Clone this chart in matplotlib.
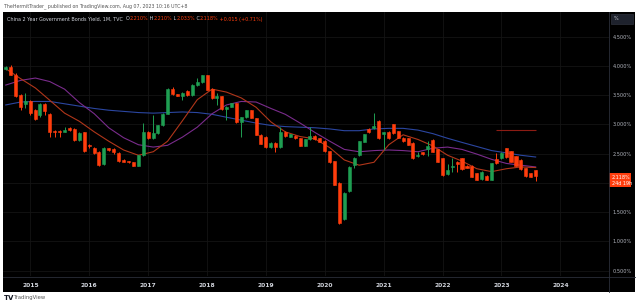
import numpy as np
import pandas as pd
import matplotlib
matplotlib.use("Agg")
import matplotlib.pyplot as plt
import matplotlib.dates as mdates
import matplotlib.transforms as mtransforms
from matplotlib.patches import Rectangle
from matplotlib.lines import Line2D

# --- monthly candles, China 2Y yield (Aug 2014 .. Aug 2023) ---
first_month = "2014-08-01"
opens = [3.94, 3.98, 3.85, 3.50, 3.35, 3.39, 3.24, 3.15, 3.35, 3.18,
         2.89, 2.89, 2.87, 2.94, 2.92, 2.73, 2.86, 2.65, 2.60, 2.53,
         2.32, 2.59, 2.57, 2.51, 2.39, 2.37, 2.35, 2.29, 2.47, 2.86,
         2.76, 2.85, 2.98, 3.18, 3.61, 3.51, 3.49, 3.57, 3.50, 3.67,
         3.72, 3.84, 3.60, 3.45, 3.48, 3.26, 3.30, 3.36, 3.04, 3.12,
         3.24, 3.10, 2.82, 2.79, 2.61, 2.68, 2.61, 2.87, 2.79, 2.80,
         2.76, 2.63, 2.74, 2.80, 2.76, 2.72, 2.54, 2.37, 2.00, 1.38,
         1.86, 2.30, 2.47, 2.70, 2.92, 2.93, 3.06, 2.83, 2.87, 3.00,
         2.88, 2.77, 2.76, 2.68, 2.45, 2.52, 2.57, 2.73, 2.57, 2.42,
         2.15, 2.27, 2.35, 2.42, 2.29, 2.29, 2.16, 2.06, 2.12, 2.05,
         2.40, 2.42, 2.59, 2.54, 2.45, 2.39, 2.25, 2.16, 2.21]
highs = [4.00, 4.01, 3.87, 3.52, 3.53, 3.41, 3.26, 3.37, 3.36, 3.19,
         2.90, 2.90, 2.96, 2.95, 2.93, 2.86, 2.87, 2.66, 2.61, 2.54,
         2.61, 2.60, 2.59, 2.52, 2.40, 2.38, 2.36, 2.48, 3.02, 2.88,
         3.16, 2.99, 3.19, 3.62, 3.63, 3.52, 3.55, 3.58, 3.68, 3.79,
         3.85, 3.85, 3.62, 3.53, 3.49, 3.31, 3.37, 3.37, 3.13, 3.25,
         3.25, 3.11, 2.83, 2.80, 2.69, 2.69, 2.96, 2.88, 2.84, 2.81,
         2.77, 2.75, 2.96, 2.81, 2.77, 2.73, 2.55, 2.38, 2.01, 1.84,
         2.28, 2.44, 2.72, 2.84, 2.93, 3.20, 3.07, 2.87, 2.88, 3.01,
         2.89, 2.78, 2.77, 2.69, 2.52, 2.53, 2.71, 2.74, 2.58, 2.43,
         2.32, 2.42, 2.37, 2.43, 2.30, 2.30, 2.17, 2.20, 2.13, 2.34,
         2.51, 2.52, 2.60, 2.55, 2.46, 2.40, 2.26, 2.17, 2.21]
lows = [3.92, 3.84, 3.47, 3.24, 3.27, 3.16, 3.08, 3.13, 3.16, 2.79,
        2.79, 2.78, 2.86, 2.89, 2.71, 2.71, 2.52, 2.60, 2.50, 2.28,
        2.31, 2.55, 2.49, 2.36, 2.35, 2.34, 2.28, 2.28, 2.46, 2.75,
        2.75, 2.84, 2.97, 3.17, 3.50, 3.48, 3.41, 3.49, 3.49, 3.66,
        3.71, 3.58, 3.44, 3.33, 3.25, 3.07, 3.29, 3.03, 2.79, 3.11,
        3.10, 2.81, 2.66, 2.60, 2.60, 2.53, 2.60, 2.79, 2.78, 2.75,
        2.62, 2.62, 2.73, 2.73, 2.69, 2.53, 2.34, 1.96, 1.30, 1.37,
        1.85, 2.25, 2.46, 2.69, 2.85, 2.92, 2.75, 2.56, 2.75, 2.84,
        2.76, 2.70, 2.64, 2.41, 2.44, 2.48, 2.46, 2.52, 2.35, 2.12,
        2.14, 2.19, 2.19, 2.22, 2.25, 2.09, 2.04, 2.05, 2.04, 2.04,
        2.32, 2.41, 2.43, 2.35, 2.28, 2.22, 2.10, 2.09, 2.033]
closes = [3.98, 3.85, 3.49, 3.30, 3.39, 3.19, 3.09, 3.35, 3.22, 2.86,
          2.87, 2.87, 2.90, 2.90, 2.73, 2.85, 2.54, 2.62, 2.51, 2.30,
          2.59, 2.56, 2.53, 2.37, 2.36, 2.35, 2.29, 2.47, 2.86, 2.76,
          2.85, 2.98, 3.18, 3.61, 3.51, 3.49, 3.54, 3.50, 3.67, 3.72,
          3.84, 3.59, 3.45, 3.48, 3.26, 3.30, 3.36, 3.04, 3.12, 3.24,
          3.11, 2.82, 2.67, 2.61, 2.68, 2.61, 2.87, 2.80, 2.83, 2.76,
          2.63, 2.74, 2.80, 2.74, 2.70, 2.54, 2.35, 1.97, 1.32, 1.83,
          2.27, 2.43, 2.71, 2.83, 2.86, 2.97, 2.76, 2.86, 2.76, 2.85,
          2.77, 2.71, 2.65, 2.42, 2.47, 2.49, 2.62, 2.53, 2.36, 2.13,
          2.22, 2.29, 2.32, 2.23, 2.26, 2.10, 2.05, 2.19, 2.05, 2.33,
          2.33, 2.51, 2.44, 2.36, 2.29, 2.23, 2.11, 2.10, 2.118]

# moving averages, sampled every 3rd month from the chart
ma_fast = [3.95, 3.78, 3.62, 3.41, 3.19, 3.05, 2.87, 2.71, 2.56, 2.47,
           2.53, 2.71, 3.06, 3.42, 3.60, 3.55, 3.45, 3.29, 3.04, 2.87,
           2.79, 2.75, 2.60, 2.39, 2.30, 2.35, 2.65, 2.82, 2.74, 2.63,
           2.47, 2.37, 2.24, 2.19, 2.24, 2.27, 2.26]
ma_mid = [3.67, 3.75, 3.79, 3.73, 3.60, 3.37, 3.18, 2.94, 2.77, 2.65,
          2.61, 2.64, 2.78, 2.95, 3.18, 3.33, 3.39, 3.38, 3.27, 3.17,
          3.02, 2.86, 2.71, 2.57, 2.53, 2.55, 2.56, 2.55, 2.53, 2.59,
          2.61, 2.57, 2.49, 2.40, 2.33, 2.30, 2.27]
ma_slow = [3.33, 3.38, 3.39, 3.39, 3.35, 3.31, 3.27, 3.24, 3.22, 3.20,
           3.19, 3.20, 3.21, 3.20, 3.17, 3.12, 3.07, 3.02, 2.98, 2.96,
           2.95, 2.94, 2.92, 2.89, 2.89, 2.92, 2.93, 2.93, 2.90, 2.84,
           2.76, 2.69, 2.62, 2.55, 2.51, 2.47, 2.44]

ref_level = 2.91          # horizontal line drawn on the chart
ref_from, ref_to = 100, 108

years = [2015, 2016, 2017, 2018, 2019, 2020, 2021, 2022, 2023, 2024]
price_ticks = [0.5, 1.0, 1.5, 2.0, 2.5, 3.0, 3.5, 4.0, 4.5]

RED = "#ff3d0d"
GREEN = "#1f9e52"
TXT = "#d1d4dc"

W, H = 640, 304
def fx(px):
    return px / W
def fy(py):
    return 1 - py / H

o = np.array(opens)
h = np.array(highs)
l = np.array(lows)
c = np.array(closes)
months = pd.date_range(first_month, periods=len(c), freq="MS")
xd = mdates.date2num(months)
colors = np.where(c >= o, GREEN, RED)

fig = plt.figure(figsize=(6.4, 3.04), dpi=100, facecolor="white")
fig.add_artist(Rectangle((fx(3), fy(292)), fx(635) - fx(3), fy(12) - fy(292),
                         transform=fig.transFigure, facecolor="black", edgecolor="none", zorder=0))

ax = fig.add_axes([fx(3), fy(276), fx(609) - fx(3), fy(12) - fy(276)])
ax.set_facecolor("black")
for s in ax.spines.values():
    s.set_visible(False)

# grid
ax.set_yticks(price_ticks)
ax.set_yticklabels([f"{v:.3f}%" for v in price_ticks])
year_x = [mdates.date2num(pd.Timestamp(f"{y}-01-01")) for y in years]
ax.set_xticks(year_x)
ax.set_xticklabels([str(y) for y in years], fontweight="bold")
ax.grid(True, color="#141414", linewidth=0.6)
ax.set_axisbelow(True)

# moving averages
ma_x = xd[::3]
ax.plot(ma_x, ma_slow, color="#2b46a0", linewidth=0.8, zorder=2)
ax.plot(ma_x, ma_mid, color="#7a2c8c", linewidth=0.8, zorder=2)
ax.plot(ma_x, ma_fast, color="#b0361a", linewidth=0.8, zorder=2)

# candles
ax.vlines(xd, l, h, colors=colors, linewidth=0.7, zorder=3)
ax.bar(xd, np.abs(c - o), bottom=np.minimum(o, c), width=19, color=colors,
       edgecolor=colors, linewidth=0.4, zorder=4)

ax.hlines(ref_level, xd[ref_from], xd[ref_to], color="#8c1c14", linewidth=0.8, zorder=2)

ax.set_xlim(xd[0] - 17, xd[-1] + 455)
ax.set_ylim(0.406, 4.919)

ax.yaxis.tick_right()
ax.tick_params(axis="y", length=0, pad=2.5, labelsize=3.6, labelcolor="#b2b5be")
ax.tick_params(axis="x", length=0, pad=5, labelsize=4.3, labelcolor=TXT)

# separators
fig.add_artist(Line2D([fx(3), fx(635)], [fy(277), fy(277)], transform=fig.transFigure,
                      color="#2a2e39", linewidth=0.6))
fig.add_artist(Line2D([fx(609), fx(609)], [fy(12), fy(292)], transform=fig.transFigure,
                      color="#2a2e39", linewidth=0.6))

# last price label
tr = mtransforms.blended_transform_factory(ax.transAxes, ax.transData)
ax.add_patch(Rectangle((1.0, c[-1] - 0.19), 0.036, 0.24, transform=tr,
                       facecolor=RED, edgecolor="none", clip_on=False, zorder=5))
ax.text(1.005, c[-1] - 0.02, f"{c[-1]:.3f}%", transform=tr, fontsize=3.5,
        color="white", va="center", ha="left", clip_on=False, zorder=6)
ax.text(1.005, c[-1] - 0.13, "24d 19h", transform=tr, fontsize=3.5,
        color="white", va="center", ha="left", clip_on=False, zorder=6)

# top-right "%" button
fig.add_artist(Rectangle((fx(611), fy(24)), fx(633) - fx(611), fy(14) - fy(24),
                         transform=fig.transFigure, facecolor="#1e222d", edgecolor="#363a45",
                         linewidth=0.4, zorder=5))
fig.text(fx(614), fy(19), "%", fontsize=3.5, color=TXT, va="center", zorder=6)

# header
fig.text(fx(4), fy(6), "TheHermitTrader_ published on TradingView.com, Aug 07, 2023 10:16 UTC+8",
         fontsize=3.4, color="#555555", va="center")

# legend line: name + OHLC, coloured piece by piece
pieces = [("China 2 Year Government Bonds Yield, 1M, TVC  ", TXT), ("O", TXT), ("2.210%", RED),
          (" H", TXT), ("2.210%", RED), (" L", TXT), ("2.033%", RED), (" C", TXT),
          ("2.118%", RED), (" +0.015 (+0.71%)", RED)]
prev = ax.annotate(pieces[0][0], xy=(fx(7), fy(19)), xycoords="figure fraction",
                   fontsize=3.5, color=pieces[0][1], va="center", annotation_clip=False)
for txt, col in pieces[1:]:
    prev = ax.annotate(txt, xy=(1, 0.5), xycoords=prev, fontsize=3.5, color=col,
                       va="center", ha="left", annotation_clip=False)

# footer logo
fig.text(fx(4), fy(298), "TV", fontsize=5, fontweight="bold", color="#131722", va="center")
fig.text(fx(14), fy(298), "TradingView", fontsize=3.8, color="#555555", va="center")

fig.savefig("out.png", dpi=100, facecolor="white")
